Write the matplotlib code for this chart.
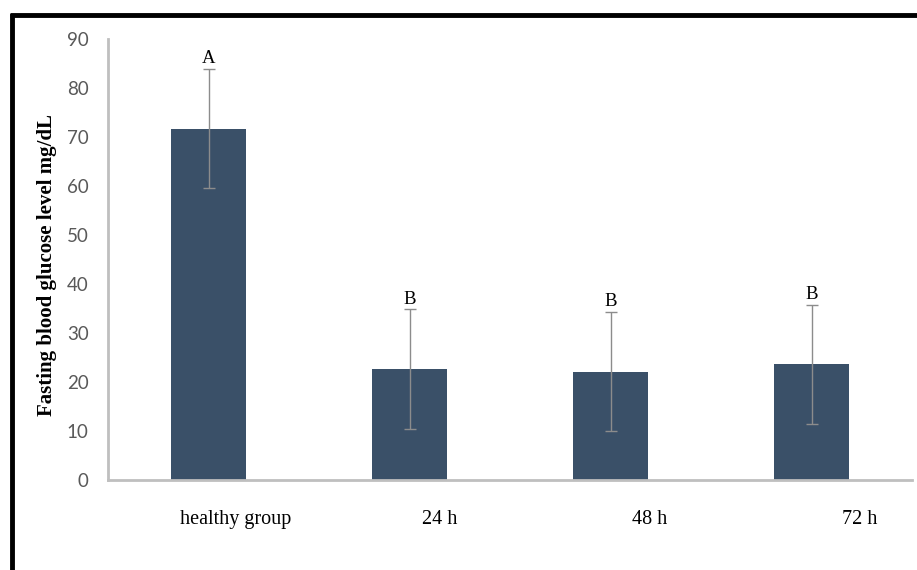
import numpy as np
import matplotlib.pyplot as plt
from matplotlib.lines import Line2D

# data
groups = ["healthy group", "24 h", "48 h", "72 h"]
glucose = [71.7, 22.6, 22.1, 23.6]
sd = [12.2, 12.2, 12.2, 12.2]
letters = ["A", "B", "B", "B"]
yticks = [0, 10, 20, 30, 40, 50, 60, 70, 80, 90]

bar_color = "#3a5068"
grid_grey = "#bfbfbf"
tick_grey = "#595959"

fig = plt.figure(figsize=(9.17, 5.70), dpi=100)
ax = fig.add_axes([108 / 917, 90 / 570, 804 / 917, 441 / 570])

x = np.arange(len(groups))
ax.bar(x, glucose, width=0.37, color=bar_color, zorder=2)
ax.errorbar(x, glucose, yerr=sd, fmt="none", ecolor="#8c8c8c",
            elinewidth=1, capsize=4, capthick=1, zorder=3)

# significance letters just above the error bars
for xi, m, s, lab in zip(x, glucose, sd, letters):
    ax.text(xi, m + s + 0.3, lab, ha="center", va="bottom",
            family="Liberation Serif", fontsize=13.5, color="black")

ax.set_xlim(-0.5, 3.5)
ax.set_ylim(0, 90)
ax.set_yticks(yticks)
ax.set_yticklabels([str(v) for v in yticks], family="Lato", fontsize=13.5,
                   color=tick_grey)
ax.tick_params(axis="y", length=0, pad=14)
ax.set_xticks([])

for side in ["top", "right"]:
    ax.spines[side].set_visible(False)
ax.spines["left"].set_color(grid_grey)
ax.spines["left"].set_linewidth(2)
ax.spines["bottom"].set_color(grid_grey)
ax.spines["bottom"].set_linewidth(2)

# category labels sit a bit right of the bars in the original
label_x = [0.137, 1.152, 2.196, 3.241]
for lx, g in zip(label_x, groups):
    ax.text(lx, -8, g, ha="center", va="center", family="Liberation Serif",
            fontsize=14.5, color="black")

fig.text(47 / 917, 1 - 265 / 570, "Fasting blood glucose level mg/dL",
         rotation=90, ha="center", va="center", family="Liberation Serif",
         fontweight="bold", fontsize=15)

# black frame on the left and top
fig.add_artist(Line2D([12 / 917, 12 / 917], [0, 1 - 16 / 570],
                      transform=fig.transFigure, color="black", lw=3.5))
fig.add_artist(Line2D([10 / 917, 1], [1 - 15 / 570, 1 - 15 / 570],
                      transform=fig.transFigure, color="black", lw=3.5,
                      solid_capstyle="butt"))

fig.savefig("out.png", dpi=100)
